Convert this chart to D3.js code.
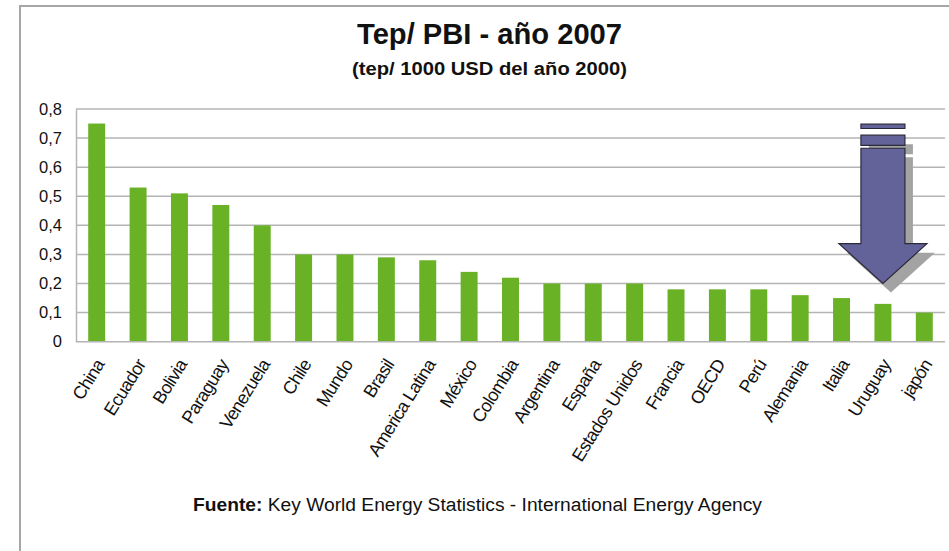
<html>
<head>
<meta charset="utf-8">
<script src="https://d3js.org/d3.v7.min.js"></script>
<style>
    body {margin: 0; background: #fff;}
    svg text {font-family: "Liberation Sans", Arial, sans-serif; fill: #111;}
</style>
</head>
<body>
<svg width=949 height=551></svg>

<script>
// data
const paises = ["China", "Ecuador", "Bolivia", "Paraguay", "Venezuela", "Chile", "Mundo", "Brasil",
    "America Latina", "México", "Colombia", "Argentina", "España", "Estados Unidos", "Francia",
    "OECD", "Perú", "Alemania", "Italia", "Uruguay", "japón"];
const tepPbi = [0.75, 0.53, 0.51, 0.47, 0.40, 0.30, 0.30, 0.29, 0.28, 0.24, 0.22, 0.20, 0.20, 0.20,
    0.18, 0.18, 0.18, 0.16, 0.15, 0.13, 0.10];
const yTicks = [0, 0.1, 0.2, 0.3, 0.4, 0.5, 0.6, 0.7, 0.8];

const svg = d3.select('svg');

// outer frame (left + top edge)
svg.append('path')
    .attr('d', 'M20,551 V6 H949')
    .attr('fill', 'none')
    .attr('stroke', '#a6a6a6')
    .attr('stroke-width', 2);

var xs = d3.scaleBand().domain(paises).range([76, 945]).paddingInner(0.59).paddingOuter(0.295);
var ys = d3.scaleLinear().domain([0, 0.8]).range([341.7, 109]);

// gridlines
svg.append('g')
    .selectAll('line')
    .data(yTicks.slice(1))
    .enter()
    .append('line')
    .attr('x1', 76).attr('x2', 945)
    .attr('y1', d => ys(d)).attr('y2', d => ys(d))
    .attr('stroke', '#b4b4b4')
    .attr('stroke-width', 1.5);

// y axis
svg.append('g')
    .attr('transform', 'translate(76,0)')
    .call(d3.axisLeft(ys).tickValues(yTicks).tickSize(0).tickPadding(14)
        .tickFormat(d => d3.format('.1f')(d).replace('.', ',').replace(/^0,0$/, '0')))
    .call(g => g.select('.domain').attr('stroke', '#b4b4b4').attr('stroke-width', 1.5))
    .call(g => g.selectAll('text').style('font-size', '16.5px').style('font-family', '"Liberation Sans", Arial, sans-serif').attr('fill', '#1a1a1a'));

// bars
svg.append('g')
    .selectAll('rect')
    .data(tepPbi)
    .enter()
    .append('rect')
    .attr('x', (d, i) => xs(paises[i]))
    .attr('y', d => ys(d))
    .attr('width', xs.bandwidth())
    .attr('height', d => ys(0) - ys(d))
    .attr('fill', '#69b226');

// baseline
svg.append('line')
    .attr('x1', 76).attr('x2', 945)
    .attr('y1', ys(0)).attr('y2', ys(0))
    .attr('stroke', '#b4b4b4')
    .attr('stroke-width', 1.5);

// x labels
svg.append('g')
    .selectAll('text')
    .data(paises)
    .enter()
    .append('text')
    .attr('transform', d => 'translate(' + (xs(d) + xs.bandwidth() / 2 + 3) + ',361) rotate(-58)')
    .attr('text-anchor', 'end')
    .attr('dy', '0.35em')
    .style('font-size', '18px')
    .style('letter-spacing', '-0.7px')
    .text(d => d);

// arrow pointing at Uruguay
var ax = xs('Uruguay') + xs.bandwidth() / 2;
var arrow = 'M' + (ax - 22) + ',' + ys(0.665) + ' H' + (ax + 22) + ' V' + ys(0.337) +
    ' H' + (ax + 44) + ' L' + ax + ',' + ys(0.2) + ' L' + (ax - 44) + ',' + ys(0.337) +
    ' H' + (ax - 22) + ' Z';
var bar1 = 'M' + (ax - 22) + ',' + ys(0.71) + ' H' + (ax + 22) + ' V' + ys(0.675) + ' H' + (ax - 22) + ' Z';
var bar2 = 'M' + (ax - 22) + ',' + ys(0.748) + ' H' + (ax + 22) + ' V' + ys(0.733) + ' H' + (ax - 22) + ' Z';

var sh = svg.append('g').attr('transform', 'translate(8,9)');
[arrow, bar1].forEach(p => sh.append('path').attr('d', p).attr('fill', '#a3a3a3'));

var ar = svg.append('g');
[arrow, bar1, bar2].forEach(p => ar.append('path').attr('d', p)
    .attr('fill', '#636399').attr('stroke', '#2a2a3a').attr('stroke-width', 1.2));

// titles
svg.append('text')
    .attr('x', 489.5).attr('y', 44)
    .attr('text-anchor', 'middle')
    .attr('textLength', 265).attr('lengthAdjust', 'spacingAndGlyphs')
    .style('font-size', '30px').style('font-weight', 'bold')
    .text('Tep/ PBI - año 2007');

svg.append('text')
    .attr('x', 489.5).attr('y', 75)
    .attr('text-anchor', 'middle')
    .attr('textLength', 275).attr('lengthAdjust', 'spacingAndGlyphs')
    .style('font-size', '18px').style('font-weight', 'bold')
    .text('(tep/ 1000 USD del año 2000)');

// source line
var src = svg.append('text')
    .attr('x', 477.5).attr('y', 511)
    .attr('text-anchor', 'middle')
    .attr('textLength', 569).attr('lengthAdjust', 'spacingAndGlyphs')
    .style('font-size', '18px');
src.append('tspan').style('font-weight', 'bold').text('Fuente:');
src.append('tspan').text(' Key World Energy Statistics - International Energy Agency');
</script>
</body>
</html>
